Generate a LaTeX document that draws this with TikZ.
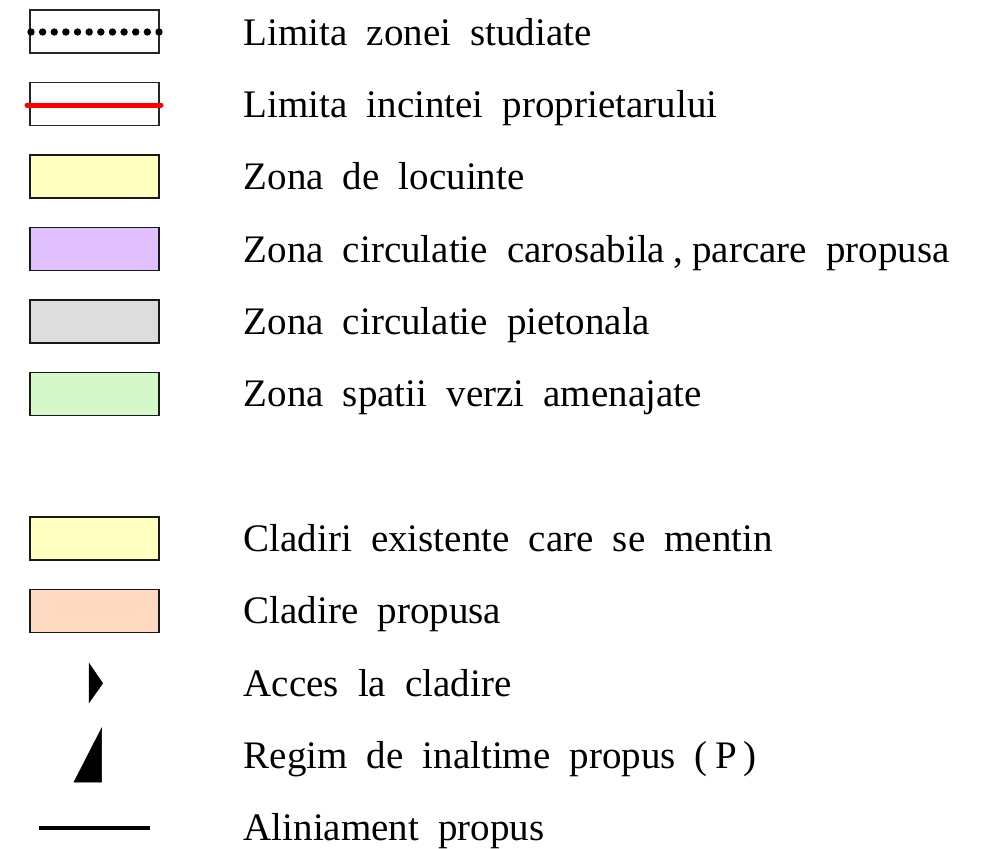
\documentclass[tikz,border=0pt]{standalone}
\usepackage{fontspec}
\setmainfont{Liberation Serif}
\definecolor{cYellow}{RGB}{255,255,192}
\definecolor{cPurple}{RGB}{224,192,255}
\definecolor{cGray}{RGB}{221,221,221}
\definecolor{cGreen}{RGB}{213,248,200}
\definecolor{cPeach}{RGB}{255,217,192}
\definecolor{cRed}{RGB}{255,0,0}
\newcommand{\lgfont}{\fontsize{39}{47}\selectfont\setlength{\spaceskip}{0.49em}}
\tikzset{
  swatch/.style={draw=black!90, line width=1.4pt, inner sep=0pt, minimum width=129pt, minimum height=43pt},
  framebox/.style={draw=black!85, line width=1.1pt, inner sep=0pt, minimum width=129pt, minimum height=43pt},
  lbl/.style={anchor=base west, inner sep=0pt, font=\lgfont},
  dotmark/.style={fill=black, draw=none, circle, minimum size=7.4pt, inner sep=0pt},
  redline/.style={draw=cRed, line width=5pt, line cap=round},
  blackline/.style={draw=black, line width=4pt},
  solidtri/.style={fill=black, draw=black, line width=0.5pt, line join=miter}
}
\begin{document}
\begin{tikzpicture}[x=1pt, y=-1pt]
\useasboundingbox (0,0) rectangle (989,849);
% row 1 : dotted boundary
\node[framebox] (b1) at (94.5,31.5) {};
\foreach \i in {0,...,11} {
  \node[dotmark] (d\i) at ({31+\i*11.636},32) {};
}
\node[lbl] (t1) at (243.5,45) {Limita zonei studiate};
% row 2 : red line
\node[framebox] (b2) at (94.5,104) {};
\coordinate (r1) at (27,105);
\coordinate (r2) at (161,105);
\draw[redline] (r1) -- (r2);
\node[lbl] (t2) at (243.5,117.3) {Limita incintei proprietarului};
% colour swatches
\node[swatch, fill=cYellow] (b3) at (94.5,176.5) {};
\node[lbl] (t3) at (243.5,189.7) {Zona de locuinte};
\node[swatch, fill=cPurple] (b4) at (94.5,249) {};
\node[lbl] (t4) at (243.5,262) {Zona circulatie carosabila\kern0.22em,\kern0.22em parcare propusa};
\node[swatch, fill=cGray] (b5) at (94.5,321.5) {};
\node[lbl] (t5) at (243.5,334.3) {Zona circulatie pietonala};
\node[swatch, fill=cGreen] (b6) at (94.5,394) {};
\node[lbl] (t6) at (243.5,406.7) {Zona spatii verzi amenajate};
\node[swatch, fill=cYellow] (b7) at (94.5,538.5) {};
\node[lbl] (t7) at (243.5,551.3) {Cladiri existente care se mentin};
\node[swatch, fill=cPeach] (b8) at (94.5,611) {};
\node[lbl] (t8) at (243.5,623.7) {Cladire propusa};
% access triangle
\coordinate (a1) at (89,663.3);
\coordinate (a2) at (102.7,683.3);
\coordinate (a3) at (89,702.7);
\fill[solidtri] (a1) -- (a2) -- (a3) -- cycle;
\node[lbl] (t9) at (243.5,696) {Acces la cladire};
% height triangle
\coordinate (h1) at (101.7,728);
\coordinate (h2) at (101.7,782);
\coordinate (h3) at (74,782);
\fill[solidtri] (h1) -- (h2) -- (h3) -- cycle;
\node[lbl] (t10) at (243.5,768.3) {Regim de inaltime propus (\kern0.2em P\kern0.15em)};
% alignment line
\coordinate (l1) at (39,828);
\coordinate (l2) at (150,828);
\draw[blackline] (l1) -- (l2);
\node[lbl] (t11) at (243.5,840.6) {Aliniament propus};
\end{tikzpicture}
\end{document}
